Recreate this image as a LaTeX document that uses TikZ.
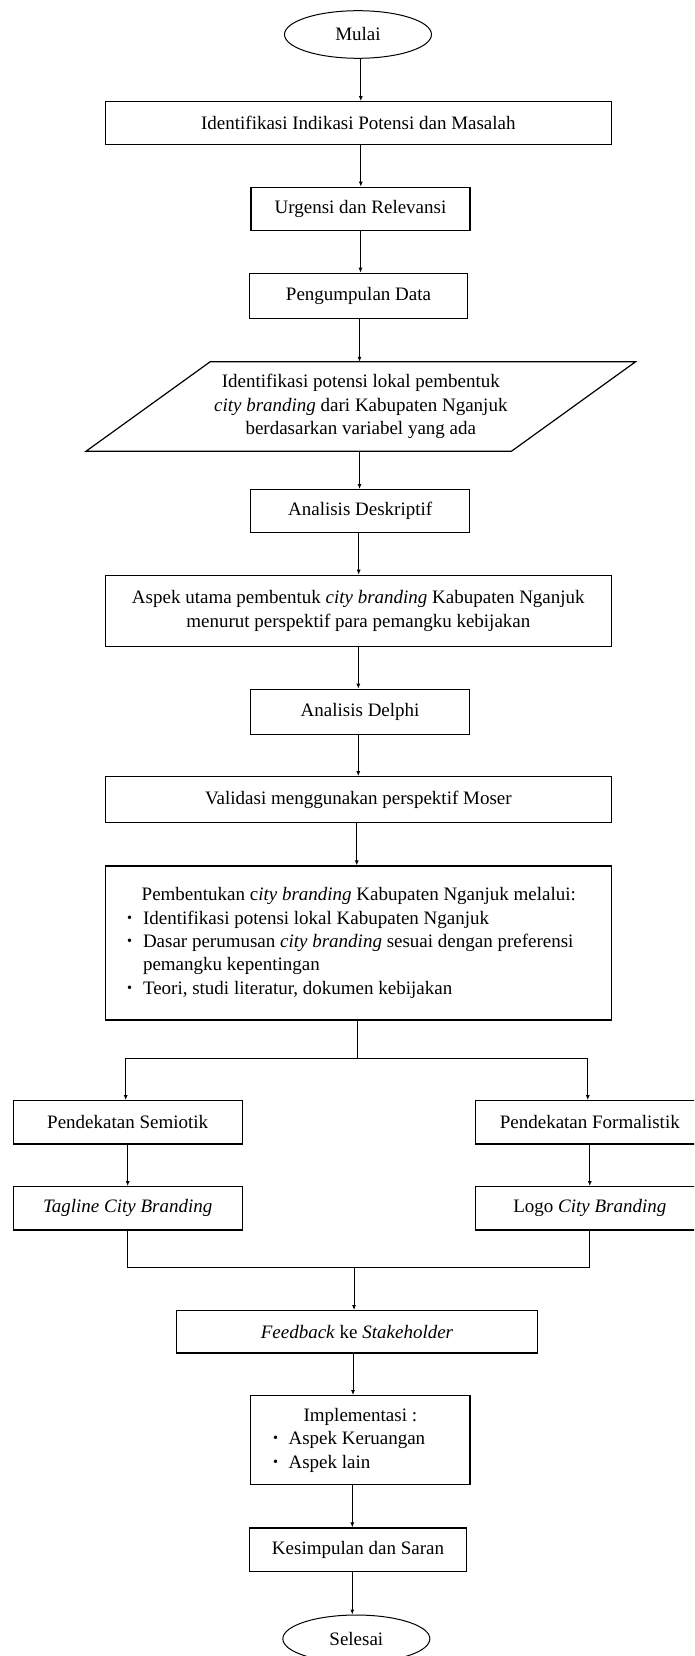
\documentclass[tikz,border=0pt]{standalone}
\usepackage{fontspec}
\usepackage{graphicx}
\setmainfont{Liberation Serif}
\usetikzlibrary{shapes.geometric,arrows.meta,calc}
\newcommand\diagfont{\fontsize{19pt}{23.3pt}\selectfont}
\newcommand\bulitem[1][16pt]{\makebox[#1][l]{\raisebox{0.22ex}{\scalebox{0.75}{\textbullet}}}}
\tikzset{
  box/.style={draw, line width=1.2pt, rectangle, inner sep=0pt, font=\diagfont, align=center},
  term/.style={draw, ellipse, line width=1pt, inner sep=0pt, minimum width=147pt, minimum height=47.6pt, font=\diagfont},
  arr/.style={line width=1pt, -{Latex[length=5pt,width=4pt]}},
  ln/.style={line width=1pt}
}
\begin{document}
\begin{tikzpicture}[x=1pt,y=-1pt]
\useasboundingbox (0,0) rectangle (694,1656);
\clip (0,0) rectangle (694,1656);
\fill[white] (0,0) rectangle (694,1656);

\node[term] (mulai) at (358,34.5) {Mulai};
\node[box, minimum width=505.9pt, minimum height=42.6pt] (ident) at (358.35,123) {Identifikasi Indikasi Potensi dan Masalah};
\node[box, minimum width=219pt, minimum height=43.4pt] (urg) at (360.5,209) {Urgensi dan Relevansi};
\node[box, minimum width=218.7pt, minimum height=45.4pt] (kump) at (358.5,296) {Pengumpulan Data};
\node[font=\diagfont, align=center, inner sep=0pt, minimum width=425pt, minimum height=89pt] (para) at (360.8,406.5)
  {Identifikasi potensi lokal pembentuk\\ \textit{city branding} dari Kabupaten Nganjuk\\ berdasarkan variabel yang ada};
\draw[line width=1.2pt] ([xshift=62pt]para.north west) -- ([xshift=62pt]para.north east)
  -- ([xshift=-62pt]para.south east) -- ([xshift=-62pt]para.south west) -- cycle;
\node[box, minimum width=219.1pt, minimum height=43pt] (desk) at (360.15,511.2) {Analisis Deskriptif};
\node[box, minimum width=505.9pt, minimum height=71.4pt] (aspek) at (358.35,611)
  {Aspek utama pembentuk \textit{city branding} Kabupaten Nganjuk\\ menurut perspektif para pemangku kebijakan};
\node[box, minimum width=218.8pt, minimum height=45.2pt] (delphi) at (360.1,711.9) {Analisis Delphi};
\node[box, minimum width=505.9pt, minimum height=45.8pt] (valid) at (358.35,799.6) {Validasi menggunakan perspektif Moser};
\node[box, minimum width=505.9pt, minimum height=154pt] (big) at (358.35,943)
  {\begin{minipage}{462.7pt}\raggedright\diagfont
   \hspace*{14.7pt}Pembentukan c\textit{ity branding} Kabupaten Nganjuk melalui:\\
   \bulitem Identifikasi potensi lokal Kabupaten Nganjuk\\
   \bulitem Dasar perumusan \textit{city branding} sesuai dengan preferensi\\
   \hspace*{16pt}pemangku kepentingan\\
   \bulitem Teori, studi literatur, dokumen kebijakan\end{minipage}};
\node[box, minimum width=228.8pt, minimum height=43.3pt] (semi) at (127.7,1122.35) {Pendekatan Semiotik};
\node[box, minimum width=228.8pt, minimum height=43.3pt] (formal) at (589.8,1122.35) {Pendekatan Formalistik};
\node[box, minimum width=228.8pt, minimum height=43.3pt] (tag) at (127.7,1208.35) {\textit{Tagline City Branding}};
\node[box, minimum width=228.8pt, minimum height=43.3pt] (logo) at (589.8,1208.35) {Logo \textit{City Branding}};
\node[box, minimum width=360.8pt, minimum height=42.3pt] (feed) at (357,1331.85) {\textit{Feedback} ke \textit{Stakeholder}};
\node[box, minimum width=219.3pt, minimum height=89pt] (impl) at (360.35,1440.2)
  {\begin{minipage}{174.7pt}\raggedright\diagfont
   \makebox[\linewidth]{Implementasi :}\\
   \bulitem[15.6pt]Aspek Keruangan\\
   \bulitem[15.6pt]Aspek lain\end{minipage}};
\node[box, minimum width=217.4pt, minimum height=43.3pt] (kes) at (358,1549.65) {Kesimpulan dan Saran};
\node[term] (sel) at (356.35,1638.8) {Selesai};

\coordinate (split) at (357.7,1058.3);
\coordinate (join) at (354,1267.7);

\draw[arr] ([xshift=2.8pt]mulai.south) -- ([xshift=2.8pt]mulai.south |- ident.north);
\draw[arr] ([xshift=2.45pt]ident.south) -- ([xshift=2.45pt]ident.south |- urg.north);
\draw[arr] (urg.south) -- (urg.south |- kump.north);
\draw[arr] ([xshift=1pt]kump.south) -- ([xshift=1pt]kump.south |- para.north);
\draw[arr] ([xshift=-1.3pt]para.south) -- ([xshift=-1.3pt]para.south |- desk.north);
\draw[arr] ([xshift=-1.5pt]desk.south) -- ([xshift=-1.5pt]desk.south |- aspek.north);
\draw[arr] (aspek.south) -- (aspek.south |- delphi.north);
\draw[arr] ([xshift=-1.8pt]delphi.south) -- ([xshift=-1.8pt]delphi.south |- valid.north);
\draw[arr] ([xshift=-1.6pt]valid.south) -- ([xshift=-1.6pt]valid.south |- big.north);

\draw[ln] (big.south -| split) -- (split);
\draw[arr] (split) -| ([xshift=-2pt]semi.north);
\draw[arr] (split) -| ([xshift=-2pt]formal.north);
\draw[arr] (semi) -- (tag);
\draw[arr] (formal) -- (logo);

\draw[ln] (tag.south) |- (join) -| (logo.south);
\draw[arr] (join) -- (join |- feed.north);
\draw[arr] ([xshift=-4pt]feed.south) -- ([xshift=-4pt]feed.south |- impl.north);
\draw[arr] ([xshift=-8pt]impl.south) -- ([xshift=-8pt]impl.south |- kes.north);
\draw[arr] ([xshift=-5.7pt]kes.south) -- ([xshift=-5.7pt]kes.south |- sel.north);
\end{tikzpicture}
\end{document}
